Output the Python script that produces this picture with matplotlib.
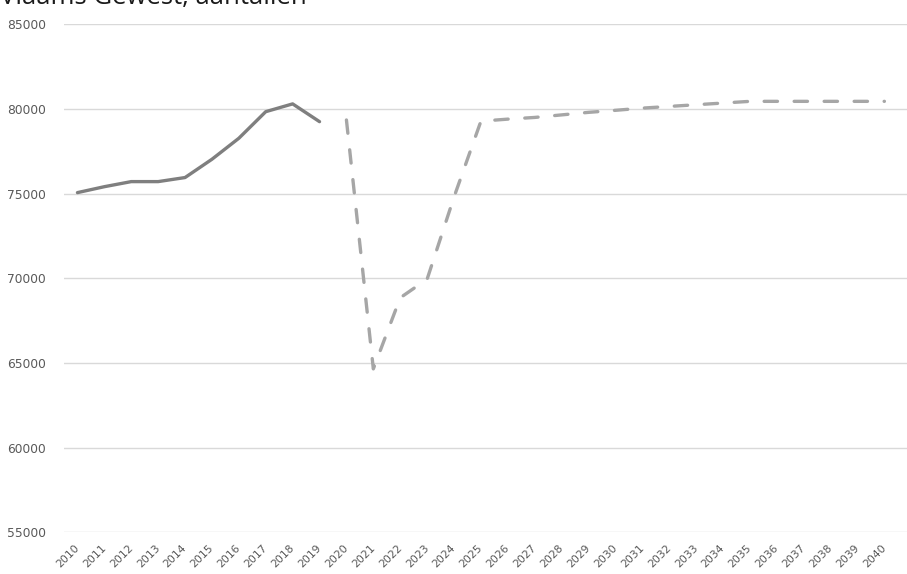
import numpy as np
import matplotlib
matplotlib.use('Agg')
import matplotlib.pyplot as plt

# jaartallen en aantallen
jaren = list(range(2010, 2041))
jaren_obs = list(range(2010, 2020))
aantal_obs = [75060, 75410, 75710, 75710, 75950, 77030, 78270, 79840, 80300, 79250]
jaren_proj = list(range(2020, 2041))
aantal_proj = [79350, 64650, 68850, 69950, 74800, 79280, 79400, 79500, 79650, 79800,
               79920, 80050, 80150, 80250, 80350, 80450, 80450, 80450, 80450, 80450, 80450]

fig = plt.figure(figsize=(9.07, 5.74), dpi=100)
ax = fig.add_axes([64 / 907, 1 - 532.3 / 574, 1 - 64 / 907, (532.3 - 24.3) / 574])

x_obs = [jaren.index(j) for j in jaren_obs]
x_proj = [jaren.index(j) for j in jaren_proj]

ax.plot(x_obs, aantal_obs, color='#7f7f7f', lw=2.4, solid_capstyle='round', solid_joinstyle='round')
ax.plot(x_proj, aantal_proj, color='#a6a6a6', lw=2.4, dashes=(4, 5),
        dash_capstyle='round', dash_joinstyle='round')

ax.set_ylim(55000, 85000)
ax.set_yticks(np.arange(55000, 85001, 5000))
ax.set_xlim(-0.5, 30.84)
ax.set_xticks(range(len(jaren)))
ax.set_xticklabels([str(j) for j in jaren], rotation=45, ha='right', va='center',
                   rotation_mode='anchor', fontsize=7.8, color='#595959')
ax.tick_params(axis='x', length=0, pad=10)
ax.tick_params(axis='y', length=0, pad=13, labelsize=8.8, labelcolor='#595959')
ax.grid(axis='y', color='#d9d9d9', lw=1)
ax.set_axisbelow(True)
for s in ax.spines.values():
    s.set_visible(False)

fig.text(0.0, 1 - 4 / 574, 'Vlaams Gewest, aantallen', fontsize=18.5, family='Open Sans',
         color='#1a1a1a', ha='left', va='baseline')

fig.savefig('out.png', dpi=100)
